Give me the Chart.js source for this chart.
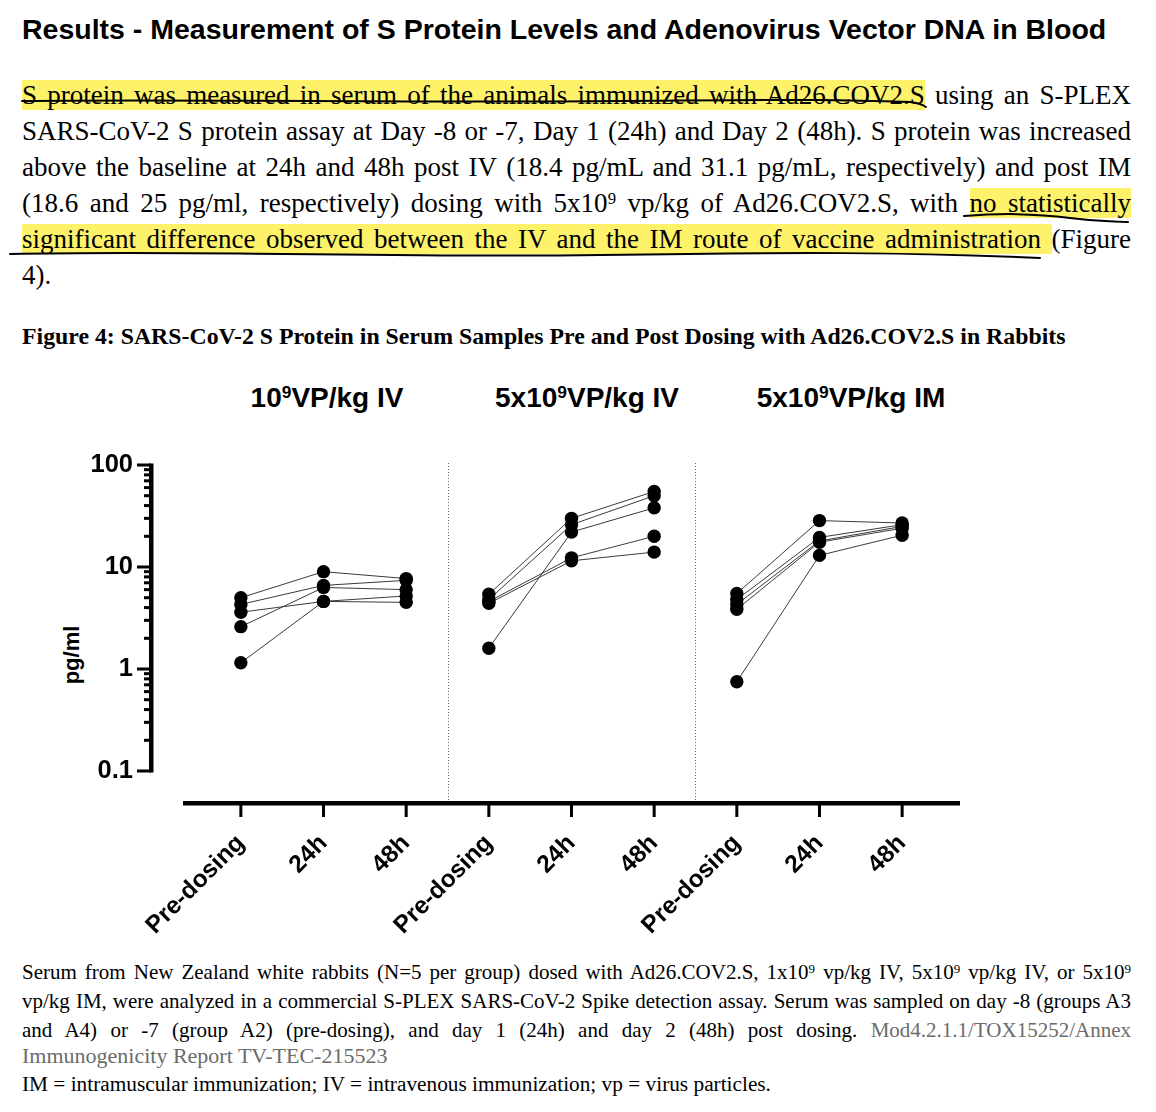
<!DOCTYPE html>
<html>
<head>
<meta charset="utf-8">
<script src="https://cdn.jsdelivr.net/npm/chart.js@4.4.1/dist/chart.umd.min.js"></script>
<style>
html,body{margin:0;padding:0;background:#fff;}
body{width:1156px;height:1112px;position:relative;overflow:hidden;color:#000;}
.abs{position:absolute;}
.sans{font-family:"Liberation Sans",Arial,sans-serif;}
.serif{font-family:"Liberation Serif","Times New Roman",serif;}
.h1{left:22px;top:12px;font-size:28.5px;line-height:34px;font-weight:bold;white-space:nowrap;}
.pl{left:22px;width:1109px;font-size:27px;line-height:36px;height:36px;text-align:justify;text-align-last:justify;}
.hl{background:#fdf26a;}
.sup{position:relative;top:-0.45em;font-size:0.62em;}
.fig{left:22px;top:320px;font-size:23.8px;line-height:32px;font-weight:bold;white-space:nowrap;}
.cap{left:22px;width:1109px;font-size:21px;line-height:28px;height:28px;text-align:justify;text-align-last:justify;}
.gray{color:#6b6b6b;}
.gt{top:381px;font-size:28px;line-height:34px;font-weight:bold;white-space:nowrap;transform:translateX(-50%);}
.gt .s9{position:relative;top:-0.5em;font-size:0.62em;}
.ytitle{left:72px;top:655px;font-size:22px;font-weight:bold;white-space:nowrap;transform:translate(-50%,-50%) rotate(-90deg);}
canvas{position:absolute;left:0;top:430px;}
svg{position:absolute;left:0;top:0;pointer-events:none;}
</style>
</head>
<body>
<div class="abs sans h1">Results - Measurement of S Protein Levels and Adenovirus Vector DNA in Blood</div>

<div class="abs serif pl" style="top:77px;"><span class="hl">S protein was measured in serum of the animals immunized with Ad26.COV2.S</span> using an S-PLEX</div>
<div class="abs serif pl" style="top:113px;">SARS-CoV-2 S protein assay at Day -8 or -7, Day 1 (24h) and Day 2 (48h). S protein was increased</div>
<div class="abs serif pl" style="top:149px;">above the baseline at 24h and 48h post IV (18.4 pg/mL and 31.1 pg/mL, respectively) and post IM</div>
<div class="abs serif pl" style="top:185px;">(18.6 and 25 pg/ml, respectively) dosing with 5x10<span class="sup">9</span> vp/kg of Ad26.COV2.S, with <span class="hl">no statistically</span></div>
<div class="abs serif pl" style="top:221px;"><span class="hl">significant difference observed between the IV and the IM route of vaccine administration </span>(Figure</div>
<div class="abs serif" style="left:22px;top:257px;font-size:27px;line-height:36px;">4).</div>

<div class="abs serif fig">Figure 4: SARS-CoV-2 S Protein in Serum Samples Pre and Post Dosing with Ad26.COV2.S in Rabbits</div>

<div id="gt0" class="abs sans gt" style="left:327px;">10<span class="s9">9</span>VP/kg IV</div>
<div id="gt1" class="abs sans gt" style="left:587px;">5x10<span class="s9">9</span>VP/kg IV</div>
<div id="gt2" class="abs sans gt" style="left:851px;">5x10<span class="s9">9</span>VP/kg IM</div>
<div class="abs sans ytitle">pg/ml</div>

<canvas id="c" width="1000" height="520"></canvas>

<div class="abs serif cap" style="top:958px;">Serum from New Zealand white rabbits (N=5 per group) dosed with Ad26.COV2.S, 1x10<span class="sup">9</span> vp/kg IV, 5x10<span class="sup">9</span> vp/kg IV, or 5x10<span class="sup">9</span></div>
<div class="abs serif cap" style="top:987px;">vp/kg IM, were analyzed in a commercial S-PLEX SARS-CoV-2 Spike detection assay. Serum was sampled on day -8 (groups A3</div>
<div class="abs serif cap" style="top:1016px;">and A4) or -7 (group A2) (pre-dosing), and day 1 (24h) and day 2 (48h) post dosing. <span class="gray">Mod4.2.1.1/TOX15252/Annex</span></div>
<div class="abs serif gray" style="left:22px;top:1042px;font-size:22px;line-height:28px;">Immunogenicity Report TV-TEC-215523</div>
<div class="abs serif" style="left:22px;top:1070px;font-size:21.3px;line-height:28px;">IM = intramuscular immunization; IV = intravenous immunization; vp = virus particles.</div>

<svg width="1156" height="1112" viewBox="0 0 1156 1112">
  <g fill="none" stroke="#000" stroke-width="2" stroke-linecap="round">
    <path d="M22,101 C200,99 420,103 620,101 S850,100 910,102 Q920,103 926,107"/>
    <path d="M964,216 C1000,213 1040,214 1070,218 S1110,221 1128,222"/>
    <path d="M10,254 C200,250 400,258 600,255 S900,252 1040,258"/>
  </g>
</svg>

<script>
// ---- data ----
const timepoints = ['Pre-dosing', '24h', '48h'];
const categories = [...timepoints, ...timepoints, ...timepoints];
const yTickValues = [0.1, 1, 10, 100];
const yTickLabels = ['0.1', '1', '10', '100'];
const groupSeparators = [2.5, 5.5];
// pg/ml per animal: [pre-dosing, 24h, 48h]
const iv1e9 = [
  [5.0, 9.0, 7.7],
  [4.3, 6.6, 7.4],
  [3.6, 4.6, 5.2],
  [2.6, 6.3, 6.0],
  [1.15, 4.6, 4.5]
];
const iv5e9 = [
  [5.4, 30, 55],
  [4.8, 26, 50],
  [1.6, 22, 38],
  [4.6, 12.3, 20],
  [4.4, 11.5, 14]
];
const im5e9 = [
  [5.5, 28.5, 27],
  [4.8, 19.5, 26],
  [4.3, 18, 25],
  [3.85, 17.5, 24],
  [0.75, 13, 20.5]
];
const groups = [iv1e9, iv5e9, im5e9];

Chart.defaults.font.family = '"Liberation Sans", Arial, sans-serif';
Chart.defaults.color = '#000';

const datasets = [];
groups.forEach((g, gi) => {
  g.forEach(row => {
    datasets.push({
      data: row.map((v, i) => ({x: gi * 3 + i, y: v})),
      borderColor: '#3a3a3a',
      borderWidth: 1,
      pointRadius: 6.7,
      pointBackgroundColor: '#000',
      pointBorderWidth: 0,
      showLine: true,
      clip: false
    });
  });
});

const prismAxes = {
  id: 'prismAxes',
  afterDraw(chart) {
    const {ctx, chartArea: ca, scales: {x, y}} = chart;
    ctx.save();
    // dotted separators
    ctx.strokeStyle = '#666';
    ctx.lineWidth = 1;
    ctx.setLineDash([1, 2]);
    groupSeparators.forEach(v => {
      const px = Math.round(x.getPixelForValue(v)) + 0.5;
      ctx.beginPath();
      ctx.moveTo(px, ca.top - 2);
      ctx.lineTo(px, ca.bottom + 30);
      ctx.stroke();
    });
    ctx.setLineDash([]);
    ctx.fillStyle = '#000';
    // y axis (offset)
    const ax = ca.left - 31;
    const yTop = y.getPixelForValue(100), yBot = y.getPixelForValue(0.1);
    ctx.fillRect(ax - 3, yTop - 1.5, 4.5, yBot - yTop + 3);
    yTickValues.forEach(v => {
      const py = y.getPixelForValue(v);
      ctx.fillRect(ax - 15, py - 1.5, 14, 3);
    });
    for (let d = -1; d <= 1; d++) {
      for (let k = 2; k <= 9; k++) {
        const py = y.getPixelForValue(k * Math.pow(10, d));
        ctx.fillRect(ax - 8, py - 1.5, 7, 3);
      }
    }
    // x axis (offset)
    const xy = ca.bottom + 32;
    ctx.fillRect(ca.left, xy - 2, ca.right - ca.left, 4.5);
    categories.forEach((c, i) => {
      const px = x.getPixelForValue(i);
      ctx.fillRect(px - 1.5, xy, 3, 14);
    });
    ctx.restore();
  }
};

const chart = new Chart(document.getElementById('c'), {
  type: 'scatter',
  data: {datasets},
  options: {
    responsive: false,
    animation: false,
    layout: {padding: {left: 0, top: 35, right: 40, bottom: 0}},
    plugins: {legend: {display: false}, tooltip: {enabled: false}},
    scales: {
      x: {
        type: 'linear', min: -0.7, max: 8.7,
        afterBuildTicks: s => { s.ticks = categories.map((_, i) => ({value: i})); },
        afterFit: s => { s.height = 179; },
        grid: {display: false, drawTicks: false},
        border: {display: false},
        ticks: {
          autoSkip: false, minRotation: 45, maxRotation: 45, padding: 58,
          font: {size: 24.5, weight: 'bold'},
          callback: v => categories[v] ?? ''
        }
      },
      y: {
        type: 'logarithmic', min: 0.1, max: 100,
        afterFit: s => { s.width = 183; },
        grid: {display: false, drawTicks: true, tickLength: 50},
        border: {display: false},
        ticks: {
          autoSkip: false, padding: 0,
          font: {size: 25.5, weight: 'bold'},
          callback: v => {
            const i = yTickValues.findIndex(t => Math.abs(Math.log10(t) - Math.log10(v)) < 1e-6);
            return i >= 0 ? yTickLabels[i] : '';
          }
        }
      }
    }
  },
  plugins: [prismAxes]
});
</script>
</body>
</html>
